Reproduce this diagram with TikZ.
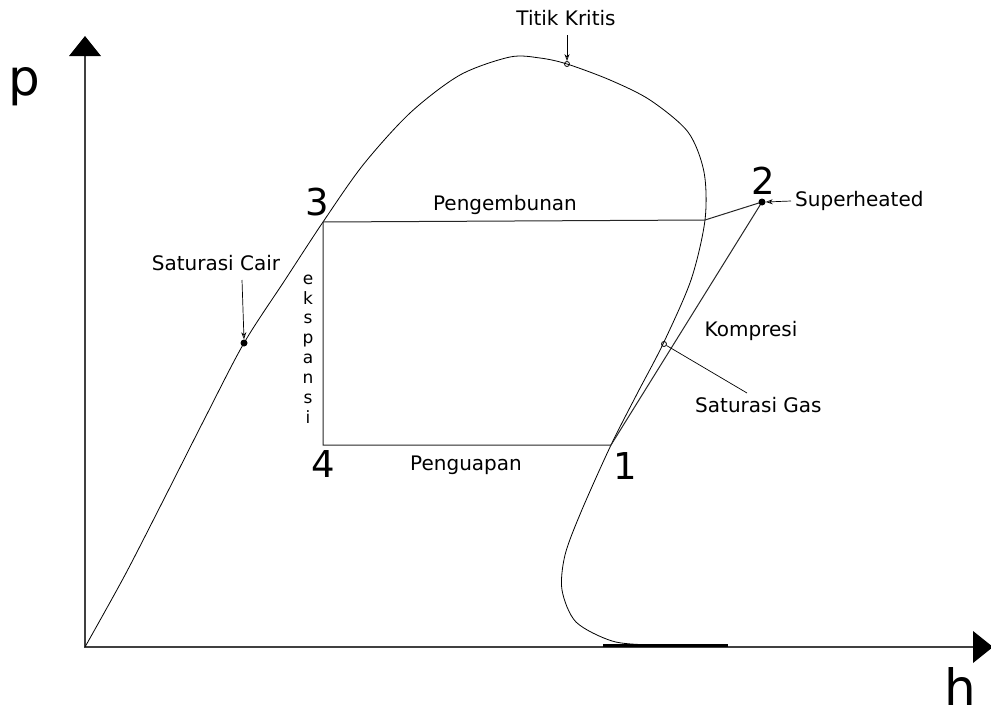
\documentclass[tikz,border=0pt]{standalone}
\usepackage{fontspec}
\setmainfont{DejaVu Sans}
\usetikzlibrary{arrows.meta}

\begin{document}
\begin{tikzpicture}[x=1pt, y=-1pt,
    tagtext/.style={font=\fontsize{20}{24}\selectfont, inner sep=0pt},
    vertext/.style={font=\fontsize{17}{19.9}\selectfont, inner sep=0pt, align=center},
    num/.style={font=\fontsize{37}{40}\selectfont, inner sep=0pt},
    axislabel/.style={font=\fontsize{50}{54}\selectfont, inner sep=0pt},
    line/.style={line width=0.8pt},
    pointer/.style={line width=0.7pt, -{Stealth[length=7pt, width=5pt, open]}},
    dot/.style={circle, fill, inner sep=0pt, minimum size=7pt},
    ring/.style={circle, draw, line width=0.8pt, inner sep=0pt, minimum size=5pt}]
    \useasboundingbox (0,0) rectangle (991,715);

    % Axes
    \coordinate (o) at (85,647);
    \coordinate (ytip) at (85,55);
    \coordinate (xtip) at (973,647);
    \draw[line width=1.1pt, black!75] (ytip) -- (o) -- (xtip);
    \fill (69,56) -- (85,36) -- (101,56) -- cycle;
    \fill (973,631) -- (993,647) -- (973,663) -- cycle;
    \node[axislabel, anchor=base west] (plabel) at (8,95) {p};
    \node[axislabel, anchor=base west] (hlabel) at (944,705) {h};

    % Saturation dome
    \draw[line] plot[smooth, tension=0.5] coordinates {
        (85,647) (125,575) (165,497) (205,418) (244,343) (285,280)
        (323,222) (363,165) (410,113) (460,75) (510,57) (540,58)
        (567,64) (610,80) (650,100) (688,132) (704,172) (705,220)
        (691,280) (663,344) (638,392) (611,445) (581,512) (565,555)
        (562,590) (576,622) (612,641) (650,645) (700,646)};
    \draw[line width=3.2pt] (603,645.5) -- (728,645.5);

    % Cycle
    \coordinate (p3) at (323,222);
    \coordinate (p4) at (323,445);
    \coordinate (p1) at (611,445);
    \coordinate (pv) at (705,220);
    \coordinate (p2) at (762,202);
    \draw[line width=1pt, black!85] (p3) -- (pv) -- (p2) -- (p1) -- (p4) -- cycle;

    \node[num] (n3) at (317,202) {3};
    \node[num] (n2) at (763,181) {2};
    \node[num] (n4) at (323,464) {4};
    \node[num] (n1) at (625,466) {1};

    \node[tagtext] (cond) at (505,205) {Pengembunan};
    \node[tagtext] (evap) at (466,465) {Penguapan};
    \node[tagtext] (comp) at (751,331) {Kompresi};
    \node[vertext] (exp) at (308,349) {e\\k\\s\\p\\a\\n\\s\\i};

    % Points and pointers
    \node[dot] (scdot) at (244,343) {};
    \node[ring] (sgdot) at (664,344) {};
    \node[ring] (cdot) at (567,64) {};
    \node[dot] (p2dot) at (p2) {};

    \node[tagtext] (scair) at (216,263) {Saturasi Cair};
    \node[tagtext, anchor=west] (sgas) at (695,405) {Saturasi Gas};
    \node[tagtext] (crit) at (566,18) {Titik Kritis};
    \node[tagtext, anchor=west] (sup) at (795,201) {Superheated};

    \coordinate (scfrom) at (242,280);
    \coordinate (critfrom) at (567,35);
    \coordinate (supfrom) at (791,201);
    \coordinate (sgto) at (747,393);
    \draw[pointer] (scfrom) -- (scdot.north);
    \draw[pointer] (critfrom) -- (cdot.north);
    \draw[pointer] (supfrom) -- (p2dot.east);
    \draw[line width=0.7pt] (sgdot) -- (sgto);
\end{tikzpicture}
\end{document}
